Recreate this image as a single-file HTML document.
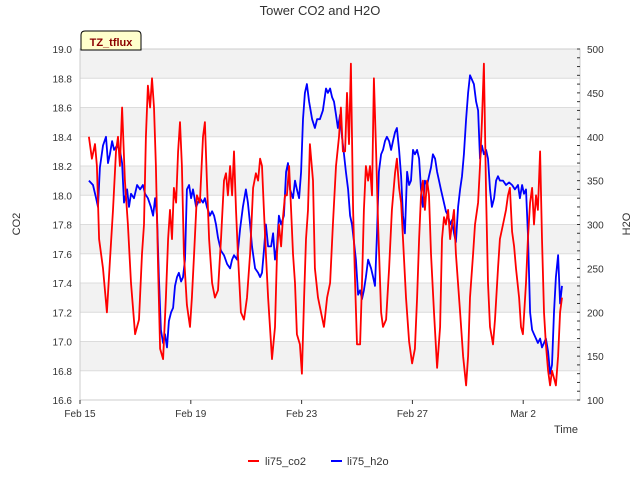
<!DOCTYPE html>
<html><head><meta charset="utf-8"><style>
body{margin:0;background:#fff;}
svg text{font-family:"Liberation Sans","DejaVu Sans",sans-serif;}
</style></head><body>
<svg id="chart" width="640" height="480">
<text x="320" y="15" text-anchor="middle" font-size="13" fill="#333">Tower CO2 and H2O</text>
<g id="bands"></g><g id="grid"></g>
<rect x="80" y="49" width="500" height="351" fill="none" stroke="#ccc"/>
<g id="series"></g><g id="axes"></g>
<text transform="translate(20,224) rotate(-90)" text-anchor="middle" font-size="11" fill="#333">CO2</text>
<text transform="translate(630,224) rotate(-90)" text-anchor="middle" font-size="11" fill="#333">H2O</text>
<text x="566" y="433" text-anchor="middle" font-size="11" fill="#333">Time</text>
<g>
<path d="M81,50 L81,35 Q81,31 85,31 L137,31 Q141,31 141,35 L141,50 Z" fill="#ffffcc" stroke="#000"/>
<text x="111" y="46" text-anchor="middle" font-size="11" font-weight="bold" fill="#8b0000">TZ_tflux</text>
</g>
<g>
<line x1="248" y1="461" x2="259" y2="461" stroke="#f00" stroke-width="2"/>
<text x="265" y="465" font-size="11" fill="#333">li75_co2</text>
<line x1="331" y1="461" x2="342" y2="461" stroke="#00f" stroke-width="2"/>
<text x="347" y="465" font-size="11" fill="#333">li75_h2o</text>
</g>
</svg>
<script>
const xTickDays=[0,4,8,12,16];
const xTickLabels=["Feb 15","Feb 19","Feb 23","Feb 27","Mar 2"];
const yLeftTicks=[16.6,16.8,17.0,17.2,17.4,17.6,17.8,18.0,18.2,18.4,18.6,18.8,19.0];
const yRightTicks=[100,150,200,250,300,350,400,450,500];
const co2Days=[0.32,0.43,0.54,0.61,0.69,0.83,0.97,1.08,1.19,1.30,1.37,1.44,1.52,1.62,1.73,1.84,1.99,2.13,2.24,2.31,2.38,2.45,2.53,2.60,2.67,2.74,2.82,2.89,3.00,3.10,3.18,3.25,3.32,3.39,3.47,3.54,3.61,3.68,3.75,3.86,3.97,4.04,4.12,4.22,4.33,4.44,4.51,4.58,4.66,4.77,4.87,4.98,5.09,5.20,5.27,5.34,5.42,5.49,5.56,5.63,5.70,5.81,5.92,6.03,6.14,6.25,6.35,6.43,6.50,6.57,6.64,6.71,6.79,6.93,7.04,7.11,7.18,7.26,7.33,7.40,7.47,7.55,7.62,7.69,7.76,7.83,7.94,8.01,8.09,8.16,8.23,8.30,8.41,8.48,8.59,8.70,8.81,8.92,9.03,9.13,9.24,9.35,9.42,9.49,9.57,9.64,9.71,9.78,9.86,9.93,10.00,10.11,10.18,10.25,10.32,10.40,10.47,10.54,10.61,10.69,10.76,10.87,10.94,11.05,11.16,11.26,11.37,11.44,11.52,11.59,11.66,11.77,11.88,11.99,12.09,12.17,12.24,12.31,12.38,12.45,12.53,12.60,12.67,12.78,12.89,13.00,13.07,13.14,13.21,13.29,13.36,13.43,13.50,13.57,13.72,13.83,13.94,14.01,14.08,14.19,14.26,14.37,14.44,14.51,14.58,14.66,14.73,14.80,14.91,14.98,15.09,15.16,15.27,15.38,15.45,15.52,15.60,15.67,15.74,15.85,15.92,15.99,16.10,16.17,16.25,16.32,16.39,16.46,16.53,16.61,16.68,16.75,16.82,16.90,16.97,17.04,17.11,17.18,17.26,17.33,17.40];
const co2Values=[18.4,18.25,18.35,18.2,17.7,17.5,17.2,17.55,17.9,18.3,18.4,18.2,18.6,18.1,17.8,17.4,17.05,17.15,17.6,17.8,18.4,18.75,18.6,18.8,18.6,18.2,17.5,16.95,16.88,17.3,17.7,17.9,17.7,18.05,17.95,18.3,18.5,18.2,17.6,17.25,17.1,17.3,17.6,18.0,17.95,18.4,18.5,18.1,17.7,17.4,17.3,17.35,17.7,18.1,18.15,18.0,18.2,18.0,18.3,17.9,17.6,17.2,17.15,17.3,17.6,18.05,18.15,18.1,18.25,18.2,17.9,17.6,17.3,16.88,17.1,17.6,17.8,17.65,17.85,18.0,18.0,18.2,17.9,17.6,17.4,17.05,16.98,16.78,17.3,17.7,17.9,18.35,18.1,17.5,17.3,17.2,17.1,17.3,17.4,17.8,18.2,18.4,18.6,18.3,18.3,18.7,18.35,18.9,17.9,17.4,16.98,16.98,17.4,17.9,18.2,18.1,18.2,18.0,18.8,18.3,17.8,17.2,17.1,17.15,17.5,17.9,18.15,18.25,18.05,17.95,17.7,17.3,17.0,16.85,16.95,17.3,17.7,18.0,18.1,17.9,18.1,18.0,17.6,17.2,16.82,17.1,17.7,17.85,17.8,17.9,17.7,17.8,17.9,17.6,17.2,16.9,16.7,16.9,17.3,17.6,17.8,17.95,18.2,18.5,18.9,18.0,17.4,17.1,16.98,17.15,17.5,17.7,17.8,17.9,18.0,18.05,17.75,17.65,17.5,17.3,17.1,17.05,17.4,17.7,17.95,18.05,17.8,18.0,17.9,18.3,17.7,17.2,16.98,16.8,16.7,16.8,16.75,16.7,16.9,17.2,17.3,17.5];
const h2oDays=[0.32,0.47,0.58,0.65,0.72,0.83,0.94,1.01,1.08,1.16,1.23,1.34,1.44,1.52,1.59,1.70,1.77,1.84,1.95,2.06,2.17,2.27,2.35,2.45,2.56,2.64,2.71,2.78,2.85,2.92,3.00,3.07,3.14,3.21,3.29,3.36,3.43,3.50,3.57,3.65,3.72,3.79,3.86,3.94,4.01,4.08,4.19,4.26,4.33,4.44,4.51,4.58,4.69,4.77,4.84,4.91,4.98,5.09,5.20,5.31,5.42,5.49,5.56,5.67,5.78,5.88,5.99,6.06,6.14,6.21,6.32,6.43,6.50,6.57,6.64,6.71,6.79,6.90,6.97,7.04,7.11,7.18,7.26,7.36,7.44,7.51,7.58,7.69,7.76,7.83,7.91,7.98,8.05,8.12,8.19,8.27,8.38,8.48,8.56,8.66,8.77,8.88,8.95,9.03,9.10,9.17,9.24,9.31,9.39,9.46,9.53,9.60,9.68,9.75,9.82,9.89,9.96,10.04,10.11,10.18,10.25,10.32,10.40,10.51,10.58,10.65,10.72,10.79,10.87,10.94,11.01,11.08,11.16,11.23,11.30,11.37,11.44,11.52,11.59,11.66,11.73,11.81,11.88,11.95,12.02,12.09,12.17,12.24,12.31,12.38,12.45,12.53,12.60,12.67,12.74,12.82,12.89,12.96,13.03,13.10,13.21,13.29,13.36,13.43,13.50,13.57,13.65,13.72,13.79,13.86,13.94,14.01,14.08,14.15,14.22,14.30,14.37,14.44,14.51,14.58,14.66,14.73,14.80,14.87,14.95,15.02,15.09,15.16,15.27,15.38,15.49,15.60,15.70,15.81,15.88,15.96,16.03,16.10,16.17,16.25,16.32,16.39,16.46,16.53,16.61,16.68,16.75,16.82,16.90,16.97,17.04,17.11,17.18,17.26,17.33,17.40];
const h2oValues=[350,345,330,320,365,390,400,370,380,395,385,390,385,370,325,340,320,335,330,345,340,345,335,330,320,310,330,310,240,180,165,175,160,190,200,205,230,240,245,235,240,260,340,345,330,340,320,325,330,325,330,320,310,315,310,300,285,270,265,255,250,260,265,260,295,320,340,325,300,275,250,245,240,245,270,300,275,275,290,260,275,310,300,310,360,370,340,330,350,340,330,360,420,450,460,440,420,410,420,420,430,455,450,455,445,440,425,410,425,400,380,360,340,310,300,280,260,220,225,215,225,240,260,250,240,230,290,360,380,385,395,400,395,385,395,405,410,385,355,310,290,360,345,350,385,380,385,375,340,320,350,345,355,365,380,375,360,350,340,330,315,310,300,305,290,280,320,340,355,380,420,450,470,465,460,440,430,375,390,380,385,375,340,320,330,350,355,350,350,345,348,345,340,345,330,345,335,340,290,200,180,175,170,165,170,160,165,170,155,130,140,200,240,265,210,230];

const NS="http://www.w3.org/2000/svg";
const L=80,R=580,T=49,B=400;
const xS=d=>L+d*(R-L)/18.05;
const yL=v=>B-(v-16.6)*(B-T)/2.4;
const yR=v=>B-(v-100)*(B-T)/400;
function mk(tag,attrs,parent){const e=document.createElementNS(NS,tag);for(const k in attrs)e.setAttribute(k,attrs[k]);parent.appendChild(e);return e;}
const bands=document.getElementById('bands'),grid=document.getElementById('grid'),axes=document.getElementById('axes'),series=document.getElementById('series');
for(let i=0;i<yLeftTicks.length-1;i++){
  if((yLeftTicks.length-2-i)%2===0){
    const r=mk('rect',{x:L,y:yL(yLeftTicks[i+1]),width:R-L,height:yL(yLeftTicks[i])-yL(yLeftTicks[i+1]),fill:'#f2f2f2'},bands);
    
    
  }
}
yLeftTicks.forEach(v=>{
  const g=mk('line',{x1:L,x2:R,y1:yL(v),y2:yL(v),stroke:'#dcdcdc'},grid);
  
  
  const t=mk('text',{x:72,y:yL(v)+4,'text-anchor':'end','font-size':10,fill:'#333'},axes);
  t.textContent=v.toFixed(1);
  
  
});
yRightTicks.forEach(v=>{
  const t=mk('text',{x:587,y:yR(v)+4,'font-size':10,fill:'#333'},axes);
  t.textContent=v;
  
  
});
for(let v=100;v<=500;v+=10){
  const tk=mk('line',{x1:R,x2:R-3,y1:yR(v),y2:yR(v),stroke:'#333'},axes);
  
  
}
xTickDays.forEach((d,i)=>{
  const tk=mk('line',{x1:xS(d),x2:xS(d),y1:B,y2:B+4,stroke:'#333'},axes);
  
  
  const t=mk('text',{x:xS(d),y:B+17,'text-anchor':'middle','font-size':10,fill:'#333'},axes);
  t.textContent=xTickLabels[i];
  
  
});
function line(days,vals,ys,color,name){
  const p=mk('polyline',{points:days.map((d,i)=>xS(d).toFixed(1)+','+ys(vals[i]).toFixed(1)).join(' '),fill:'none',stroke:color,'stroke-width':1.8,'stroke-linejoin':'round'},series);
  
  
}
line(h2oDays,h2oValues,yR,'#0000ff','h2o-line');
line(co2Days,co2Values,yL,'#ff0000','co2-line');
</script>
</body></html>
